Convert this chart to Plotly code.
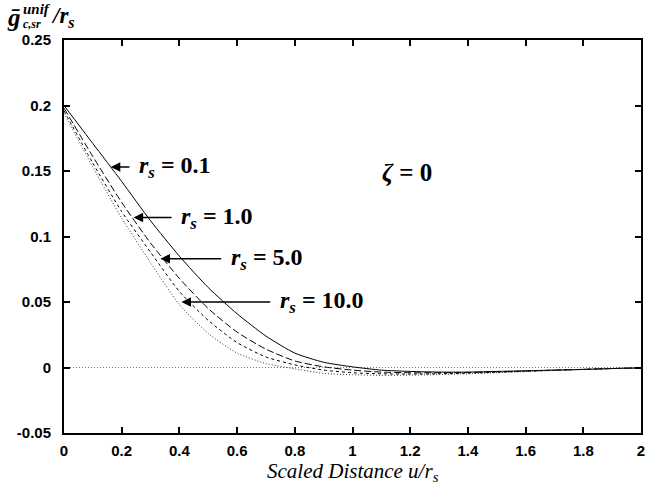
import plotly.graph_objects as go

u = [0.0, 0.1, 0.2, 0.3, 0.4, 0.5, 0.6, 0.7, 0.8, 0.9, 1.0,
     1.1, 1.2, 1.3, 1.4, 1.5, 1.6, 1.7, 1.8, 1.9, 2.0]

g_rs01 = [0.200, 0.171, 0.142, 0.112, 0.085, 0.061, 0.041, 0.024, 0.011, 0.004, 0.0005,
          -0.002, -0.003, -0.0035, -0.0035, -0.003, -0.0025, -0.002, -0.0015, -0.0008, -0.0003]
g_rs1 = [0.198, 0.161, 0.126, 0.095, 0.068, 0.045, 0.027, 0.014, 0.005, 0.0005, -0.002,
         -0.0035, -0.004, -0.004, -0.0038, -0.0033, -0.0027, -0.002, -0.0014, -0.0008, -0.0003]
g_rs5 = [0.196, 0.156, 0.119, 0.088, 0.058, 0.036, 0.019, 0.008, 0.002, -0.002, -0.004,
         -0.0048, -0.005, -0.0048, -0.0043, -0.0036, -0.0029, -0.0021, -0.0014, -0.0008, -0.0003]
g_rs10 = [0.194, 0.153, 0.114, 0.080, 0.048, 0.026, 0.011, 0.003, -0.001, -0.0045, -0.0055,
          -0.006, -0.0058, -0.0054, -0.0048, -0.004, -0.0031, -0.0023, -0.0015, -0.0008, -0.0003]

series_names = ["r_s = 0.1", "r_s = 1.0", "r_s = 5.0", "r_s = 10.0"]
series_vals = [g_rs01, g_rs1, g_rs5, g_rs10]
label_nums = ["0.1", "1.0", "5.0", "10.0"]
# arrow tip (u, g) and tail u for each label
arrow_tip_u = [0.162, 0.241, 0.334, 0.407]
arrow_tip_g = [0.153, 0.1145, 0.083, 0.050]
arrow_tail_u = [0.232, 0.378, 0.55, 0.72]

xtick_vals = [0, 0.2, 0.4, 0.6, 0.8, 1.0, 1.2, 1.4, 1.6, 1.8, 2.0]
xtick_text = ["0", "0.2", "0.4", "0.6", "0.8", "1", "1.2", "1.4", "1.6", "1.8", "2"]
ytick_vals = [-0.05, 0, 0.05, 0.1, 0.15, 0.2, 0.25]
ytick_text = ["-0.05", "0", "0.05", "0.1", "0.15", "0.2", "0.25"]

dashes = ["solid", "7px,3px", "3px,3px", "1px,2px"]
colors = ["black", "black", "black", "#333333"]

fig = go.Figure()
fig.add_trace(go.Scatter(x=[0, 2], y=[0, 0], mode="lines",
                         line=dict(color="#555555", width=0.8, dash="1px,2px"),
                         showlegend=False, hoverinfo="skip"))
for name, vals, d, c in zip(series_names, series_vals, dashes, colors):
    fig.add_trace(go.Scatter(x=u, y=vals, mode="lines", name=name,
                             line=dict(color=c, width=1, dash=d, shape="spline", smoothing=0.6),
                             showlegend=False))

serif = "Liberation Serif"
for num, tu, tg, tail in zip(label_nums, arrow_tip_u, arrow_tip_g, arrow_tail_u):
    fig.add_annotation(x=tu, y=tg, ax=tail, ay=tg, xref="x", yref="y", axref="x", ayref="y",
                       text="", showarrow=True, arrowhead=2, arrowsize=1.2, arrowwidth=1.6,
                       arrowcolor="black")
    fig.add_annotation(x=tail + 0.022, y=tg, xref="x", yref="y", xanchor="left", yanchor="middle",
                       text="<b><i>r</i></b><sub><b><i>s</i></b></sub><b> = " + num + "</b>",
                       showarrow=False, font=dict(family=serif, size=24, color="black"))

fig.add_annotation(x=1.097, y=0.149, xref="x", yref="y", xanchor="left", yanchor="middle",
                   text="<b><i>ζ</i> = 0</b>", showarrow=False,
                   font=dict(family=serif, size=25, color="black"))

# y-axis title pieces (top-left)
W0, PW, B0, PH = 64, 581, 433, 393
def px(xp):
    return (xp - W0) / PW
def py(yp):
    return (B0 - yp) / PH

fig.add_annotation(x=px(5), y=py(17), xref="paper", yref="paper", xanchor="left", yanchor="middle",
                   text="<b><i>ḡ</i></b>", showarrow=False,
                   font=dict(family=serif, size=25, color="black"))
fig.add_annotation(x=px(21), y=py(9), xref="paper", yref="paper", xanchor="left", yanchor="middle",
                   text="<b><i>unif</i></b>", showarrow=False,
                   font=dict(family=serif, size=15, color="black"))
fig.add_annotation(x=px(21), y=py(24), xref="paper", yref="paper", xanchor="left", yanchor="middle",
                   text="<b><i>c,sr</i></b>", showarrow=False,
                   font=dict(family=serif, size=12, color="black"))
fig.add_annotation(x=px(49), y=py(17), xref="paper", yref="paper", xanchor="left", yanchor="middle",
                   text="<b><i>/r</i></b><sub><b><i>s</i></b></sub>", showarrow=False,
                   font=dict(family=serif, size=23, color="black"))

fig.add_annotation(x=0.5, y=py(472), xref="paper", yref="paper", xanchor="center", yanchor="middle",
                   text="<i>Scaled Distance u/r</i><sub><i>s</i></sub>", showarrow=False,
                   font=dict(family=serif, size=21, color="black"))

axis_common = dict(showgrid=False, zeroline=False, showline=True, linecolor="black", linewidth=2,
                   mirror="ticks", ticks="inside", ticklen=6, tickwidth=1.5, tickcolor="black",
                   ticklabeloverflow="allow",
                   tickfont=dict(family="Liberation Sans", size=15, color="black", weight="bold"))
fig.update_xaxes(range=[0, 2], tickvals=xtick_vals, ticktext=xtick_text, ticklabelstandoff=3,
                 **axis_common)
fig.update_yaxes(range=[-0.05, 0.25], tickvals=ytick_vals, ticktext=ytick_text, ticklabelstandoff=8,
                 **axis_common)

fig.update_layout(width=647, height=491, margin=dict(l=64, r=2, t=40, b=58),
                  plot_bgcolor="white", paper_bgcolor="white", showlegend=False)

fig.write_html("out.html")
